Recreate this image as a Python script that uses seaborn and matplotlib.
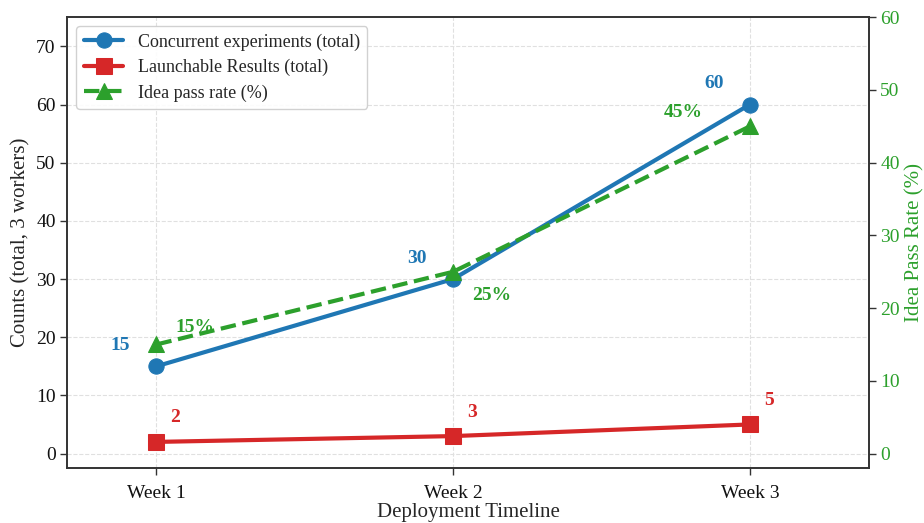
import numpy as np
import pandas as pd
import matplotlib
matplotlib.use("Agg")
import matplotlib.pyplot as plt
import seaborn as sns

weeks = ["Week 1", "Week 2", "Week 3"]
concurrent = [15, 30, 60]
launchable = [2, 3, 5]
pass_rate = [15, 25, 45]

blue = "#1f77b4"
red = "#d62728"
green = "#2ca02c"

sns.set_theme(style="whitegrid")
plt.rcParams["font.family"] = ["Liberation Serif", "DejaVu Serif"]
plt.rcParams["axes.edgecolor"] = "#333333"

df = pd.DataFrame({"week": weeks, "pos": range(len(weeks)),
                   "concurrent": concurrent, "launchable": launchable,
                   "pass_rate": pass_rate})

fig, ax = plt.subplots(figsize=(9.24, 5.23), dpi=100)
fig.subplots_adjust(left=0.073, right=0.94, top=0.967, bottom=0.105)
ax2 = ax.twinx()

sns.lineplot(data=df, x="pos", y="concurrent", ax=ax, color=blue, lw=3,
             marker="o", markersize=11, mec=blue, label="Concurrent experiments (total)")
sns.lineplot(data=df, x="pos", y="launchable", ax=ax, color=red, lw=3,
             marker="s", markersize=11, mec=red, label="Launchable Results (total)")
sns.lineplot(data=df, x="pos", y="pass_rate", ax=ax2, color=green, lw=3,
             ls="--", marker="^", markersize=12, mec=green, label="Idea pass rate (%)")

for i, v in enumerate(concurrent):
    ax.annotate(str(v), (i, v), xytext=(-36, 21), textcoords="offset pixels",
                ha="center", va="center", color=blue, fontsize=14, fontweight="bold")
for i, v in enumerate(launchable):
    ax.annotate(str(v), (i, v), xytext=(19, 24), textcoords="offset pixels",
                ha="center", va="center", color=red, fontsize=14, fontweight="bold")
pct_off = [(38, 17), (39, -24), (-67, 14)]
for i, v in enumerate(pass_rate):
    ax2.annotate(f"{v}%", (i, v), xytext=pct_off[i], textcoords="offset pixels",
                 ha="center", va="center", color=green, fontsize=14, fontweight="bold")

ax.set_xlim(-0.3, 2.4)
ax.set_ylim(-2.5, 75)
ax2.set_ylim(-2, 60)
ax.set_xticks(range(len(weeks)))
ax.set_xticklabels(weeks)
ax.set_yticks(range(0, 71, 10))
ax2.set_yticks(range(0, 61, 10))

ax.set_xlabel("Deployment Timeline", fontsize=15, labelpad=1)
ax.set_ylabel("Counts (total, 3 workers)", fontsize=15)
ax2.set_ylabel("Idea Pass Rate (%)", fontsize=15, color=green)

ax.grid(True, ls="--", color="#e0e0e0", lw=0.8)
ax2.grid(False)
ax.set_facecolor("white")
for a in (ax, ax2):
    a.tick_params(axis="both", labelsize=14, length=5, width=1, color="#333333",
                  direction="out", left=(a is ax), right=(a is ax2), bottom=True,
                  labelcolor="#111111")
    for s in a.spines.values():
        s.set_color("#333333")
        s.set_linewidth(1.2)
ax.tick_params(axis="x", pad=7)
ax2.tick_params(axis="y", labelcolor=green)

h1, l1 = ax.get_legend_handles_labels()
h2, l2 = ax2.get_legend_handles_labels()
ax2.get_legend().remove()
ax.legend(h1 + h2, l1 + l2, loc="upper left", fontsize=13, frameon=True,
          framealpha=0.9, edgecolor="#cccccc", borderaxespad=0.5,
          handlelength=2.2, labelspacing=0.45)

fig.savefig("out.png", dpi=100)
